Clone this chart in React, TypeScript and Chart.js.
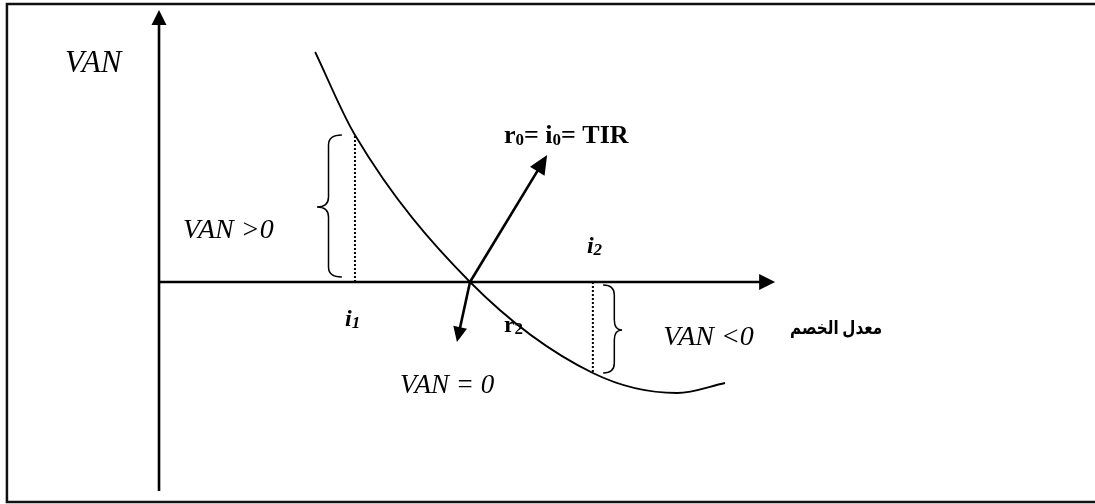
import React, { useEffect, useRef } from "react";
import { Chart, registerables } from "chart.js";

Chart.register(...registerables);

// Discount rate (x) and VAN (y)
const rates = [5.02, 6.3, 10.0, 13.95, 16.66, 18.2];
const vanValues = [23.0, 14.7, 0, -9.1, -11.1, -10.1];

const TIR = 10;
const rateI1 = 6.3;
const vanI1 = 14.7;
const rateI2 = 13.95;
const vanI2 = -9.1;

const xAxisEnd = 19.81;
const yAxisTop = 27.2;
const yAxisBottom = -20.9;

const frameLeft = -4.89;
const frameTop = 27.8;
const frameBottom = -22.0;

// arrows from the TIR point
const arrowUpTip = [12.48, 12.7];
const arrowDownTip = [9.58, -6.0];

// braces: [xEnds, xBody, xTip, yTop, yMid, yBottom]
const braceLeft = [5.88, 5.45, 5.08, 14.7, 7.5, 0.5];
const braceRight = [14.28, 14.64, 14.89, -0.3, -4.8, -9.1];

// labels
const labelTexts = ["VAN", "VAN >0", "VAN <0", "VAN = 0"];
const labelX = [-3.02, 0.77, 16.21, 7.75];
const labelY = [21.0, 4.4, -6.3, -11.1];
const labelSize = [31, 28, 28, 27];

const tirLabel = ["r", "0", "= i", "0", "= TIR"];
const tirLabelPos = [11.09, 13.9];
const i1Pos = [5.98, -4.4];
const i2Pos = [13.76, 2.9];
const r2Pos = [11.09, -5.0];
const axisTitle = "معدل الخصم";
const axisTitlePos = [23.25, -5.2];

const X_MIN = -5.113;
const X_MAX = 30.096;
const Y_MIN = -22.2;
const Y_MAX = 28.2;

function arrow(ctx: CanvasRenderingContext2D, x0: number, y0: number, x1: number, y1: number, len: number, hw: number, lw: number) {
  const dx = x1 - x0;
  const dy = y1 - y0;
  const d = Math.hypot(dx, dy);
  const ux = dx / d;
  const uy = dy / d;
  const bx = x1 - ux * len;
  const by = y1 - uy * len;
  ctx.save();
  ctx.strokeStyle = "#000";
  ctx.fillStyle = "#000";
  ctx.lineWidth = lw;
  ctx.beginPath();
  ctx.moveTo(x0, y0);
  ctx.lineTo(bx + ux * 1, by + uy * 1);
  ctx.stroke();
  ctx.beginPath();
  ctx.moveTo(x1, y1);
  ctx.lineTo(bx - uy * hw, by + ux * hw);
  ctx.lineTo(bx + uy * hw, by - ux * hw);
  ctx.closePath();
  ctx.fill();
  ctx.restore();
}

function brace(ctx: CanvasRenderingContext2D, xe: number, xb: number, xt: number, yt: number, ym: number, yb: number) {
  const r = 10;
  ctx.save();
  ctx.strokeStyle = "#000";
  ctx.lineWidth = 1.5;
  ctx.beginPath();
  ctx.moveTo(xe, yt);
  ctx.quadraticCurveTo(xb, yt, xb, yt + r);
  ctx.lineTo(xb, ym - r);
  ctx.quadraticCurveTo(xb, ym, xt, ym);
  ctx.quadraticCurveTo(xb, ym, xb, ym + r);
  ctx.lineTo(xb, yb - r);
  ctx.quadraticCurveTo(xb, yb, xe, yb);
  ctx.stroke();
  ctx.restore();
}

const drawPlugin = {
  id: "vanDiagram",
  beforeDatasetsDraw(chart: any) {
    const ctx: CanvasRenderingContext2D = chart.ctx;
    const xs = chart.scales.x;
    const ys = chart.scales.y;
    const px = (v: number) => xs.getPixelForValue(v);
    const py = (v: number) => ys.getPixelForValue(v);
    ctx.save();
    // frame
    ctx.strokeStyle = "#111";
    ctx.lineWidth = 2.5;
    ctx.beginPath();
    ctx.moveTo(chart.width + 5, py(frameTop));
    ctx.lineTo(px(frameLeft), py(frameTop));
    ctx.lineTo(px(frameLeft), py(frameBottom));
    ctx.lineTo(chart.width + 5, py(frameBottom));
    ctx.stroke();

    // dotted lines
    ctx.setLineDash([2, 2]);
    ctx.lineWidth = 2;
    ctx.strokeStyle = "#000";
    ctx.beginPath();
    ctx.moveTo(px(rateI1), py(0));
    ctx.lineTo(px(rateI1), py(vanI1));
    ctx.moveTo(px(rateI2), py(0));
    ctx.lineTo(px(rateI2), py(vanI2));
    ctx.stroke();
    ctx.setLineDash([]);

    // axes
    arrow(ctx, px(0), py(yAxisBottom), px(0), py(yAxisTop), 15, 7.5, 2.6);
    arrow(ctx, px(0), py(0), px(xAxisEnd), py(0), 16, 8, 2.6);

    // braces
    brace(ctx, px(braceLeft[0]), px(braceLeft[1]), px(braceLeft[2]), py(braceLeft[3]), py(braceLeft[4]), py(braceLeft[5]));
    brace(ctx, px(braceRight[0]), px(braceRight[1]), px(braceRight[2]), py(braceRight[3]), py(braceRight[4]), py(braceRight[5]));

    // arrows from TIR
    arrow(ctx, px(TIR), py(0), px(arrowUpTip[0]), py(arrowUpTip[1]), 19, 8.5, 2.6);
    arrow(ctx, px(TIR), py(0), px(arrowDownTip[0]), py(arrowDownTip[1]), 15, 7, 2.6);

    // labels
    ctx.fillStyle = "#000";
    ctx.textBaseline = "alphabetic";
    ctx.textAlign = "left";
    labelTexts.forEach((t, i) => {
      ctx.font = `italic ${labelSize[i]}px 'Liberation Serif', serif`;
      ctx.fillText(t, px(labelX[i]), py(labelY[i]));
    });

    // r0= i0= TIR
    let cx = px(tirLabelPos[0]);
    const by = py(tirLabelPos[1]);
    tirLabel.forEach((t, i) => {
      const sub = i % 2 === 1;
      ctx.font = sub ? "bold 17px 'Liberation Serif', serif" : "bold 26px 'Liberation Serif', serif";
      ctx.fillText(t, cx, sub ? by + 2 : by);
      cx += ctx.measureText(t).width;
    });

    const subLabel = (pos: number[], main: string, sub: string, italic: boolean) => {
      let x = px(pos[0]);
      const y = py(pos[1]);
      ctx.font = `${italic ? "italic " : ""}bold 24px 'Liberation Serif', serif`;
      ctx.fillText(main, x, y);
      x += ctx.measureText(main).width;
      ctx.font = `${italic ? "italic " : ""}bold 17px 'Liberation Serif', serif`;
      ctx.fillText(sub, x, y + 2);
    };
    subLabel(i1Pos, "i", "1", true);
    subLabel(i2Pos, "i", "2", true);
    subLabel(r2Pos, "r", "2", false);

    ctx.textAlign = "right";
    ctx.direction = "rtl" as any;
    ctx.font = "bold 19px 'Liberation Serif', 'DejaVu Sans', serif";
    ctx.fillText(axisTitle, px(axisTitlePos[0]), py(axisTitlePos[1]), 92);
    ctx.restore();
  },
};

export default function App() {
  const ref = useRef<HTMLCanvasElement | null>(null);
  useEffect(() => {
    if (!ref.current) return;
    const chart = new Chart(ref.current, {
      type: "line",
      data: {
        datasets: [
          {
            label: "VAN",
            data: rates.map((r, i) => ({ x: r, y: vanValues[i] })),
            borderColor: "#000",
            borderWidth: 1.8,
            pointRadius: 0,
            fill: false,
            cubicInterpolationMode: "monotone",
          },
        ],
      },
      options: {
        animation: false,
        responsive: false,
        devicePixelRatio: 1,
        layout: { padding: 0 },
        plugins: { legend: { display: false }, tooltip: { enabled: false } },
        scales: {
          x: { type: "linear", min: X_MIN, max: X_MAX, display: false },
          y: { type: "linear", min: Y_MIN, max: Y_MAX, display: false },
        },
      },
      plugins: [drawPlugin],
    });
    return () => chart.destroy();
  }, []);
  return (
    <div style={{ position: "absolute", left: 0, top: 0, width: 1095, height: 504, background: "#fff" }}>
      <canvas ref={ref} width={1095} height={504} />
    </div>
  );
}
